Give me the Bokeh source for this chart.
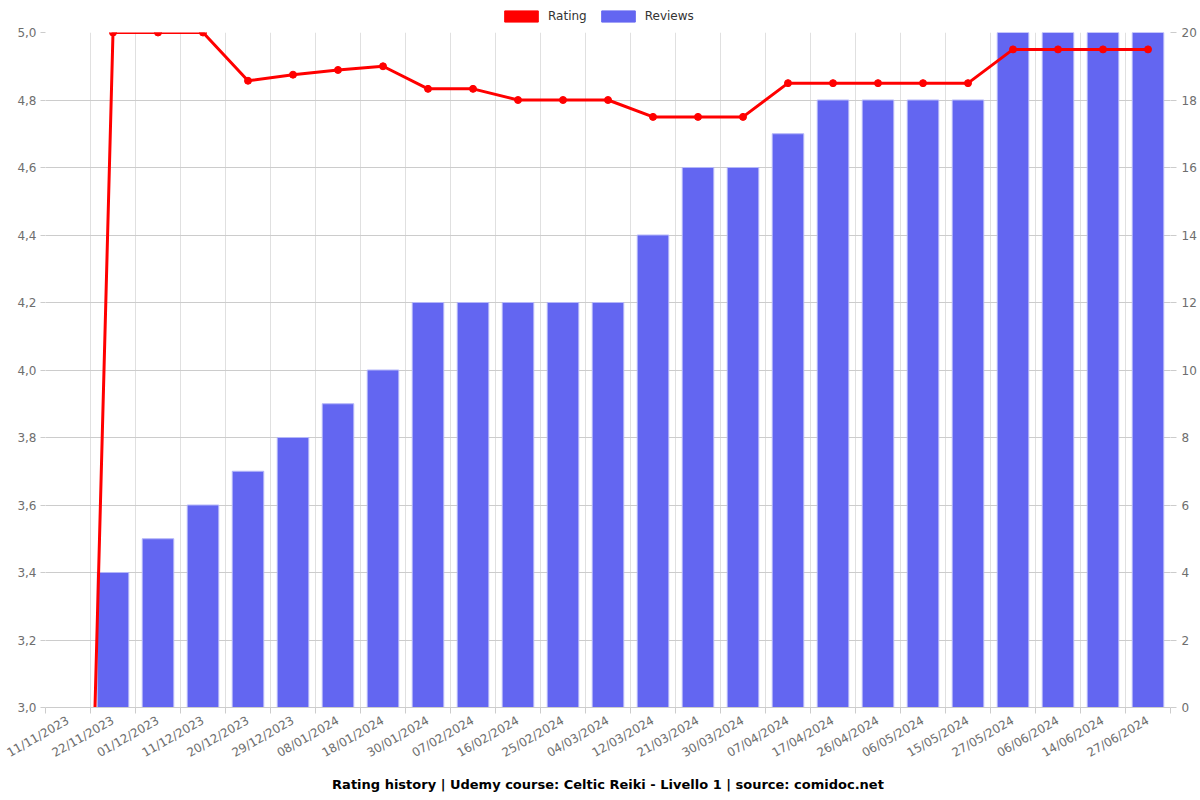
from bokeh.plotting import figure
from bokeh.layouts import column
from bokeh.models import (Range1d, LinearAxis, FixedTicker, CustomJSTickFormatter,
                          Legend, LegendItem, Title, ColumnDataSource)
from bokeh.embed import file_html
from bokeh.resources import INLINE

dates = ["11/11/2023", "22/11/2023", "01/12/2023", "11/12/2023", "20/12/2023",
         "29/12/2023", "08/01/2024", "18/01/2024", "30/01/2024", "07/02/2024",
         "16/02/2024", "25/02/2024", "04/03/2024", "12/03/2024", "21/03/2024",
         "30/03/2024", "07/04/2024", "17/04/2024", "26/04/2024", "06/05/2024",
         "15/05/2024", "27/05/2024", "06/06/2024", "14/06/2024", "27/06/2024"]
ratings = [0.0, 5.0, 5.0, 5.0, 4.857, 4.875, 4.889, 4.9, 4.833, 4.833,
           4.8, 4.8, 4.8, 4.75, 4.75, 4.75, 4.85, 4.85, 4.85, 4.85,
           4.85, 4.95, 4.95, 4.95, 4.95]
reviews = [0, 4, 5, 6, 7, 8, 9, 10, 12, 12, 12, 12, 12, 14, 16, 16, 17, 18, 18, 18,
           18, 20, 20, 20, 20]
left_ticks = [3.0, 3.2, 3.4, 3.6, 3.8, 4.0, 4.2, 4.4, 4.6, 4.8, 5.0]
right_ticks = [0, 2, 4, 6, 8, 10, 12, 14, 16, 18, 20]
series = ["Rating", "Reviews"]
series_colors = ["#ff0000", "#6366f1"]

idx = list(range(len(dates)))
src = ColumnDataSource(dict(x=idx, rating=ratings, reviews=reviews))

TXT = "#6e6e6e"

# ---- legend strip on top ----
lf = figure(width=1200, height=25, output_backend="svg", toolbar_location=None,
            x_range=Range1d(0, 1), y_range=Range1d(0, 1),
            x_axis_type=None, y_axis_type=None, outline_line_color=None,
            min_border_left=0, min_border_right=0, min_border_top=0, min_border_bottom=0)
lf.grid.visible = False
items = []
for name, col in zip(series, series_colors):
    r = lf.vbar(x=[-10], top=[0], width=0.7, fill_color=col, line_color=col)
    items.append(LegendItem(label=name, renderers=[r]))
legend = Legend(items=items, orientation="horizontal", location=(455, 2),
                label_text_font_size="12px", label_text_color="#333333",
                label_text_font="DejaVu Sans", label_height=14, label_standoff=6,
                glyph_width=42, glyph_height=14, spacing=10, padding=0, margin=0,
                border_line_color=None, background_fill_alpha=0)
lf.add_layout(legend, "center")

# ---- main chart ----
p = figure(width=1200, height=775, output_backend="svg", toolbar_location=None,
           x_range=Range1d(-0.5, len(dates) - 0.5), y_range=Range1d(3.0, 5.0),
           min_border_left=45, min_border_right=30, min_border_top=7,
           min_border_bottom=93, outline_line_color=None)
p.extra_y_ranges = {"rev": Range1d(0, 20)}

xa = p.xaxis[0]
xa.ticker = FixedTicker(ticks=idx, minor_ticks=[i - 0.5 for i in idx] + [len(idx) - 0.5])
xa.major_label_overrides = {i: d for i, d in enumerate(dates)}
xa.major_label_orientation = 0.52
xa.major_tick_line_color = None
xa.minor_tick_in = 0
xa.minor_tick_out = 6
xa.minor_tick_line_color = "#cccccc"
xa.axis_line_color = "#cccccc"
xa.major_label_text_color = TXT
xa.major_label_text_font_size = "12px"
xa.major_label_text_font = "DejaVu Sans"
xa.major_label_standoff = 6

p.xgrid.grid_line_color = None
p.xgrid.minor_grid_line_color = "#e0e0e0"

ya = p.yaxis[0]
ya.ticker = FixedTicker(ticks=left_ticks)
ya.formatter = CustomJSTickFormatter(code="return tick.toFixed(1).replace('.', ',');")
ya.axis_line_color = None
ya.major_tick_line_color = "#cccccc"
ya.major_tick_in = 0
ya.major_tick_out = 5
ya.minor_tick_line_color = None
ya.major_label_text_color = TXT
ya.major_label_text_font_size = "12px"
ya.major_label_text_font = "DejaVu Sans"
ya.major_label_standoff = 4
p.ygrid.grid_line_color = "#cccccc"

ra = LinearAxis(y_range_name="rev", ticker=FixedTicker(ticks=right_ticks))
ra.axis_line_color = None
ra.major_tick_line_color = "#cccccc"
ra.major_tick_in = 0
ra.major_tick_out = 6
ra.minor_tick_line_color = None
ra.major_label_text_color = TXT
ra.major_label_text_font_size = "12px"
ra.major_label_text_font = "DejaVu Sans"
ra.major_label_standoff = 5
p.add_layout(ra, "right")

p.vbar(x="x", top="reviews", bottom=0, width=0.7, source=src, y_range_name="rev",
       fill_color=series_colors[1], line_color="#b4b6f8", line_width=1)
p.line(x="x", y="rating", source=src, line_color=series_colors[0], line_width=3)
p.scatter(x="x", y="rating", source=src, size=7, fill_color=series_colors[0],
          line_color=series_colors[0])

title = Title(text="Rating history | Udemy course: Celtic Reiki - Livello 1 | source: comidoc.net",
              align="center", text_font_size="13px", text_font_style="bold",
              text_color="#000000", text_font="DejaVu Sans")
p.add_layout(title, "below")

layout = column(lf, p, spacing=0)
open("out.html", "w").write(file_html(layout, INLINE))
